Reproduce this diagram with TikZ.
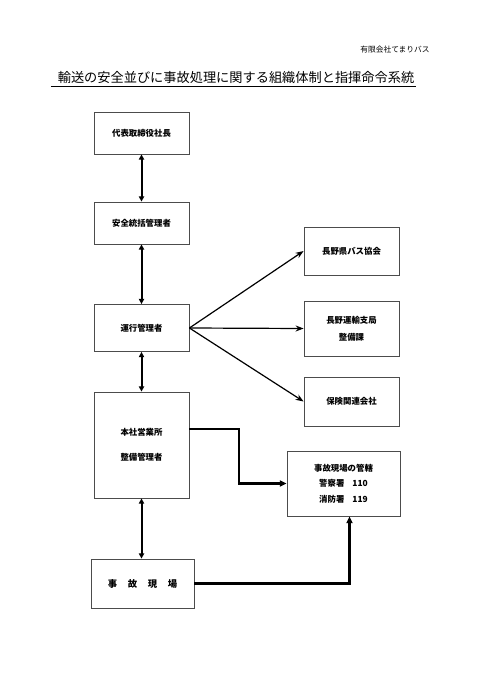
\documentclass[tikz,border=0pt]{standalone}
\usepackage{fontspec}
\setmainfont{Noto Sans CJK JP}
\usepackage{tikz}
\usetikzlibrary{arrows.meta,positioning,calc}

\begin{document}
\begin{tikzpicture}[
    x=0.75pt, y=-0.75pt,
    box/.style={
      draw=black!70,
      line width=0.6pt,
      minimum width=71.25pt,
      minimum height=#1,
      font=\fontsize{6.3pt}{7.5pt}\selectfont\bfseries,
      align=center,
      inner sep=1pt
    },
    box/.default=31.5pt,
    twoway/.style={
      {Triangle[length=4pt,width=4pt]}-{Triangle[length=4pt,width=4pt]},
      line width=1.5pt
    },
    report/.style={
      -{Stealth[length=6pt,width=4.5pt]},
      line width=0.9pt
    },
    route/.style={
      -{Triangle[length=5pt,width=4.5pt]},
      line width=1.6pt
    }
  ]
  \useasboundingbox (0,0) rectangle (479,677);

  % header and title
  \node[font=\fontsize{5.8pt}{7pt}\selectfont] (company) at (395,50) {有限会社てまりバス};
  \node[font=\fontsize{9.9pt}{11pt}\selectfont, inner sep=1pt] (title) at (236,78)
    {輸送の安全並びに事故処理に関する組織体制と指揮命令系統};
  \draw[line width=0.8pt] ([xshift=-4pt,yshift=-0.5pt]title.south west) -- ([yshift=-0.5pt]title.south east);

  % chain of command (left)
  \node[box] (ceo)    at (141.5,133) {代表取締役社長};
  \node[box] (safety) at (141.5,223) {安全統括管理者};
  \node[box=35.25pt] (ops) at (141.5,328) {運行管理者};
  \node[box=79.5pt, font=\fontsize{6.3pt}{18.75pt}\selectfont\bfseries] (office) at (141.5,445)
    {本社営業所\\整備管理者};
  \node[box=36.75pt, minimum width=77.25pt, font=\fontsize{7pt}{8pt}\selectfont\bfseries] (site) at (142.5,583.5)
    {事\hspace{8pt}故\hspace{8pt}現\hspace{8pt}場};

  \draw[twoway] (ceo.south) -- (safety.north);
  \draw[twoway] (safety.south) -- (ops.north);
  \draw[twoway] (ops.south) -- (office.north);
  \draw[twoway] (office.south) -- (office.south |- site.north);

  % outside bodies (right)
  \node[box=36pt] (busassoc) at (351.5,251) {長野県バス協会};
  \node[box=41.25pt, font=\fontsize{6.3pt}{12.75pt}\selectfont\bfseries] (transport) at (351.5,328.5)
    {長野運輸支局\\整備課};
  \node[box=36.75pt] (insurance) at (351.5,401.5) {保険関連会社};
  \node[box=48.75pt, minimum width=84.75pt, font=\fontsize{6.3pt}{11.6pt}\selectfont\bfseries] (police) at (343.5,483.5)
    {事故現場の管轄\\警察署\hspace{6pt}110\\消防署\hspace{6pt}119};

  \draw[report] (ops.east) -- (busassoc.west);
  \draw[report] (ops.east) -- (transport.west);
  \draw[report] (ops.east) -- (insurance.west);

  % accident reporting routes
  \draw[route] ([yshift=12pt]office.east) -- ++(50,0) |- (police.west);
  \draw[route] (site.east) -| ([xshift=4.5pt]police.south);

\end{tikzpicture}
\end{document}
